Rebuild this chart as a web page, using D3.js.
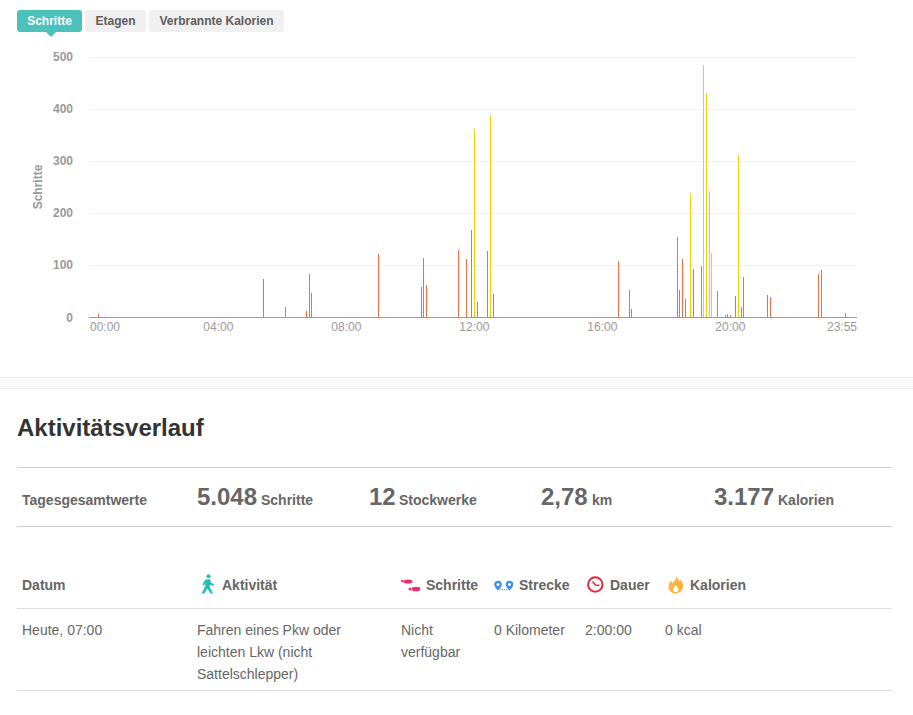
<!DOCTYPE html>
<html><head><meta charset="utf-8">
<script src="https://cdn.jsdelivr.net/npm/d3@7"></script>
<style>html,body{margin:0;padding:0;background:#fff}svg{display:block}text{font-family:"Liberation Sans",Arial,sans-serif}</style>
</head><body><div id="c"></div>
<script>
const tabs = ["Schritte","Etagen","Verbrannte Kalorien"];
const yTicks = [0,100,200,300,400,500];
const xTickLabels = ["00:00","04:00","08:00","12:00","16:00","20:00","23:55"];
const moderateTimes = ["00:15","05:25","06:05","06:45","06:50","06:55","09:00","10:20","10:25","10:30","11:30","11:45","11:55","12:05","12:25","12:35","16:30","16:50","16:55","18:20","18:25","18:30","18:35","18:50","19:05","19:35","19:50","19:55","20:00","20:10","20:20","20:25","21:10","21:15","22:45","22:50","23:35"];
const moderateSteps = [5,72,20,12,83,47,121,58,114,62,129,112,167,29,127,45,108,52,16,154,52,112,35,93,98,50,3,6,4,41,20,77,43,39,83,91,8];
const vigorousTimes = ["12:00","12:30","18:45","19:10","19:15","19:20","19:25","20:15"];
const vigorousSteps = [361,388,238,483,429,241,123,311];
const totals = [["5.048","Schritte"],["12","Stockwerke"],["2,78","km"],["3.177","Kalorien"]];
const headers = ["Datum","Aktivität","Schritte","Strecke","Dauer","Kalorien"];
const rowCells = [["Heute, 07:00"],["Fahren eines Pkw oder","leichten Lkw (nicht","Sattelschlepper)"],["Nicht","verfügbar"],["0 Kilometer"],["2:00:00"],["0 kcal"]];

const pad = n => String(n).padStart(2,"0");
const slots = d3.range(288).map(i => pad(Math.floor(i/12))+":"+pad(i%12*5));

const svg = d3.select("#c").append("svg").attr("width",913).attr("height",715);
const x = d3.scaleBand().domain(slots).range([89,857]);
const y = d3.scaleLinear().domain([0,500]).range([317,56.5]);
const cx = t => x(t)+x.bandwidth()/2;

// tabs
const tabBoxes = [[17,65],[85,61],[149,135]];
svg.append("path").attr("d","M46,32L51,37L56,32Z").attr("fill","#4dc1bc");
tabs.forEach((t,i)=>{
  svg.append("rect").attr("x",tabBoxes[i][0]).attr("y",10).attr("width",tabBoxes[i][1]).attr("height",22).attr("rx",3)
    .attr("fill",i===0?"#4dc1bc":"#f0f0f0");
  svg.append("text").attr("x",tabBoxes[i][0]+tabBoxes[i][1]/2).attr("y",25).attr("text-anchor","middle")
    .attr("font-size",12).attr("font-weight","bold").attr("fill",i===0?"#fff":"#5f5c5c").text(t);
});

// grid + y labels
const yG = svg.append("g");
yG.selectAll("line").data(yTicks.filter(d=>d>0)).join("line")
  .attr("x1",89).attr("x2",857).attr("y1",d=>Math.round(y(d))+.5).attr("y2",d=>Math.round(y(d))+.5)
  .attr("stroke","#f1f1f1");
yG.selectAll("text").data(yTicks).join("text")
  .attr("x",73).attr("y",d=>y(d)+4.5).attr("text-anchor","end")
  .attr("font-size",12).attr("font-weight","bold").attr("fill","#999").text(d=>d);
svg.append("text").attr("transform","translate(42,187) rotate(-90)").attr("text-anchor","middle")
  .attr("font-size",12).attr("font-weight","bold").attr("fill","#999").text("Schritte");

// bars
const bars = (times,vals,col)=>svg.append("g").selectAll("rect").data(times).join("rect")
  .attr("x",d=>Math.floor(cx(d)+.01)).attr("width",1)
  .attr("y",(d,i)=>y(vals[i])).attr("height",(d,i)=>317-y(vals[i]))
  .attr("fill",col).attr("shape-rendering","crispEdges");
bars(moderateTimes,moderateSteps,"#fb6a3f");
bars(vigorousTimes,vigorousSteps,"#ffc800");

// x axis
svg.append("line").attr("x1",89).attr("x2",857).attr("y1",317.5).attr("y2",317.5).attr("stroke","#999");
svg.append("g").selectAll("text").data(xTickLabels).join("text")
  .attr("x",(d,i)=>i===0?90:i===6?857:cx(d))
  .attr("y",331)
  .attr("text-anchor",(d,i)=>i===0?"start":i===6?"end":"middle")
  .attr("font-size",12).attr("fill","#999").text(d=>d);

// divider
svg.append("rect").attr("x",-1).attr("y",377.5).attr("width",915).attr("height",11).attr("fill","#fafafa").attr("stroke","#eee");

// section
const txt=(s,xx,yy,size,weight,col)=>svg.append("text").attr("x",xx).attr("y",yy).attr("font-size",size).attr("font-weight",weight).attr("fill",col).text(s);
const hr=(yy,col)=>svg.append("line").attr("x1",17).attr("x2",892).attr("y1",yy+.5).attr("y2",yy+.5).attr("stroke",col);
txt("Aktivitätsverlauf",17,436,24,"bold","#333");
hr(467,"#ccc"); hr(526,"#ccc"); hr(608,"#ddd"); hr(690,"#ddd");
txt("Tagesgesamtwerte",22,505,14,"bold","#666");
const totalX=[[197,261],[369,399],[541,592],[714,778]];
totals.forEach((t,i)=>{ txt(t[0],totalX[i][0],505,24,"bold","#666"); txt(t[1],totalX[i][1],505,14,"bold","#666"); });

const headX=[22,222,426,519,610,690];
headers.forEach((h,i)=>txt(h,headX[i],589.5,14,"bold","#666"));
const cellX=[22,197,401,494,585,665];
rowCells.forEach((c,i)=>c.forEach((s,j)=>txt(s,cellX[i],635+j*22,14,"normal","#666")));

// icons
const ic=svg.append("g");
// walker
const w=ic.append("g").attr("fill","#1fbfae").attr("stroke","none");
w.append("circle").attr("cx",208.5).attr("cy",576.3).attr("r",2);
w.append("path").attr("d","M205,580 L209.8,579 L211,582.5 L214,584.6 L213.2,586 L209.8,584.4 L209.6,587 L213,593 L210.8,593.8 L207.4,588.6 L204,593.8 L201.8,593 L205.2,586.6 L205.4,583 L204,585.4 L202.4,584.6 Z");
// footprints
const f=ic.append("g").attr("fill","#ee2c6b");
f.append("ellipse").attr("cx",408).attr("cy",581.5).attr("rx",4.5).attr("ry",2);
f.append("circle").attr("cx",402.3).attr("cy",581).attr("r",1.3);
f.append("ellipse").attr("cx",416).attr("cy",589).attr("rx",4.4).attr("ry",2.3);
f.append("circle").attr("cx",410).attr("cy",589).attr("r",1.5);
// route pins
const pin=(px)=>ic.append("path").attr("fill-rule","evenodd").attr("fill","#3f8ef0")
  .attr("d",`M${px},590.5 C${px-2},588.5 ${px-3.8},586.5 ${px-3.8},584.6 A3.8,3.8 0 0 1 ${px+3.8},584.6 C${px+3.8},586.5 ${px+2},588.5 ${px},590.5Z M${px},583 a1.5,1.5 0 1 0 .01,0Z`);
pin(498); pin(509.5);
ic.append("line").attr("x1",500).attr("x2",508).attr("y1",589.5).attr("y2",589.5).attr("stroke","#3f8ef0").attr("stroke-dasharray","1 1");
// clock
ic.append("circle").attr("cx",595.3).attr("cy",584.5).attr("r",7.2).attr("fill","none").attr("stroke","#e5293d").attr("stroke-width",2);
ic.append("path").attr("d","M592.5,581.5L595.5,585L599.5,585.5").attr("fill","none").attr("stroke","#e5293d").attr("stroke-width",1.4);
// flame
ic.append("path").attr("fill-rule","evenodd").attr("fill","#fdb443")
  .attr("d","M676,575.5 C677,579 679,579.5 679.5,581.5 C680.5,580.8 680.6,579.8 680.5,579 C682.5,581.5 683.5,584 683,587 C682.4,591 679,593.5 675.5,593.5 C672,593.5 668.8,591 668.5,587.5 C668.2,584.5 670,582.5 670.5,580.5 C671.5,581.3 672,582.2 672,583.2 C674.5,581.5 676.5,579 676,575.5Z M675.8,585 C674.5,587 673,588 673.2,590 C673.4,591.4 674.5,592 675.8,592 C677.2,592 678.4,591.2 678.5,589.8 C678.6,588 676.6,587 675.8,585Z");
</script></body></html>
